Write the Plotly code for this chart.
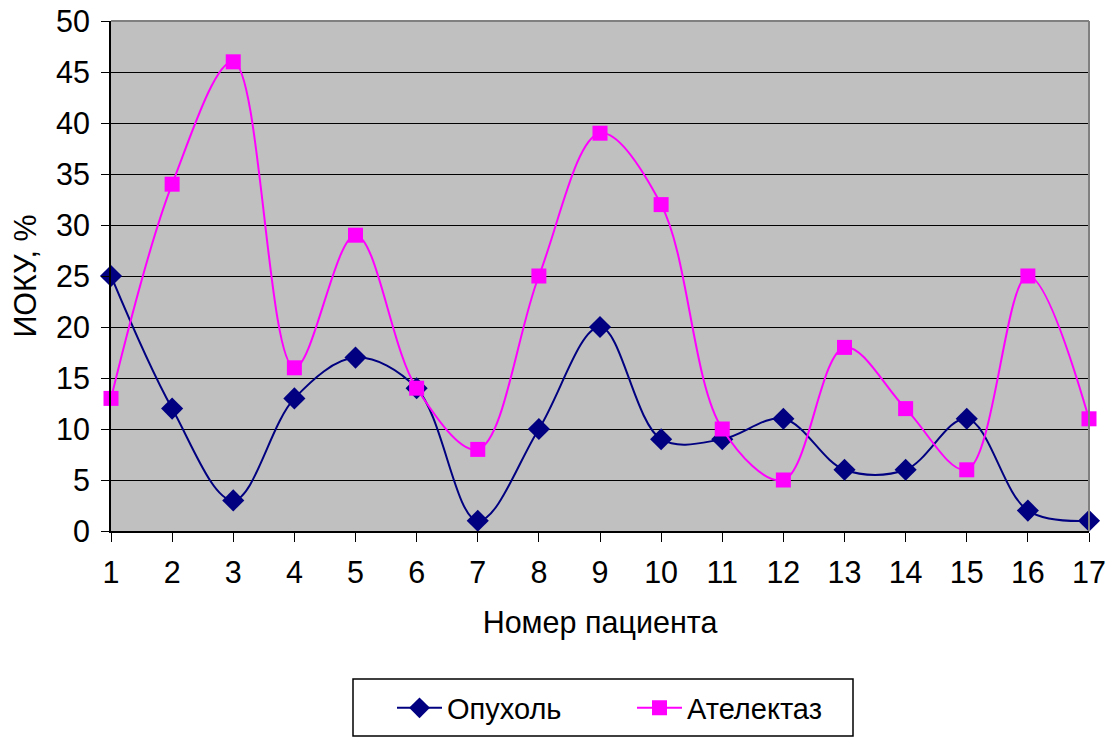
import plotly.graph_objects as go

patients = list(range(1, 18))
tumor = [25, 12, 3, 13, 17, 14, 1, 10, 20, 9, 9, 11, 6, 6, 11, 2, 1]
atelectasis = [13, 34, 46, 16, 29, 14, 8, 25, 39, 32, 10, 5, 18, 12, 6, 25, 11]
y_ticks = list(range(0, 55, 5))

FONT = "Liberation Sans, Arial, sans-serif"
W, H = 1111, 738
L, R, T, B = 111, 1089, 21, 531
PW, PH = R - L, B - T


def px_x(v):
    return (v - L) / PW


def px_y(v):
    return (B - v) / PH


fig = go.Figure()
fig.add_trace(go.Scatter(
    x=patients, y=tumor, name="Опухоль", mode="lines+markers",
    line=dict(color="#000080", width=2, shape="spline", smoothing=1),
    marker=dict(symbol="diamond", size=17, color="#000080"),
    cliponaxis=False,
))
fig.add_trace(go.Scatter(
    x=patients, y=atelectasis, name="Ателектаз", mode="lines+markers",
    line=dict(color="#FF00FF", width=2, shape="spline", smoothing=1),
    marker=dict(symbol="square", size=15, color="#FF00FF"),
    cliponaxis=False,
))

fig.update_layout(
    width=W, height=H,
    margin=dict(l=L, r=W - R, t=T, b=H - B),
    paper_bgcolor="white", plot_bgcolor="#C0C0C0",
    font=dict(family=FONT, size=30.5, color="black"),
    showlegend=True,
    legend=dict(
        orientation="h", xref="container", yref="container",
        x=392 / W, y=(H - 708) / H,
        xanchor="left", yanchor="middle",
        borderwidth=0, bgcolor="rgba(0,0,0,0)",
        font=dict(family=FONT, size=29), itemwidth=45, entrywidth=180,
    ),
    xaxis=dict(
        range=[1, 17], tickmode="array", tickvals=patients,
        ticktext=[str(p) for p in patients], automargin=False,
        showgrid=False, zeroline=False,
        showline=True, linecolor="black", linewidth=2,
        ticks="outside", ticklen=9, tickcolor="black", tickwidth=1,
        ticklabelstandoff=4,
        title=dict(text="Номер пациента", standoff=24, font=dict(size=30.5)),
    ),
    yaxis=dict(
        range=[0, 50], tickmode="array", tickvals=y_ticks, automargin=False,
        showgrid=True, gridcolor="black", gridwidth=1, zeroline=False,
        showline=True, linecolor="black", linewidth=2,
        ticks="outside", ticklen=8, tickcolor="black", tickwidth=1,
        ticklabelstandoff=5,
        title=dict(text="ИОКУ, %", standoff=10, font=dict(size=30.5)),
    ),
    shapes=[
        dict(type="line", xref="x domain", yref="y domain", x0=0, x1=1, y0=1, y1=1,
             line=dict(color="#808080", width=2), layer="above"),
        dict(type="line", xref="x domain", yref="y domain", x0=1, x1=1, y0=0, y1=1,
             line=dict(color="#808080", width=2), layer="above"),
        dict(type="rect", xref="paper", yref="paper",
             x0=px_x(353), x1=px_x(853), y0=px_y(679), y1=px_y(736),
             line=dict(color="black", width=1.5), fillcolor="rgba(0,0,0,0)"),
    ],
)

fig.write_html("out.html", config={"displayModeBar": False},
               post_script="document.body.style.margin='0';")
